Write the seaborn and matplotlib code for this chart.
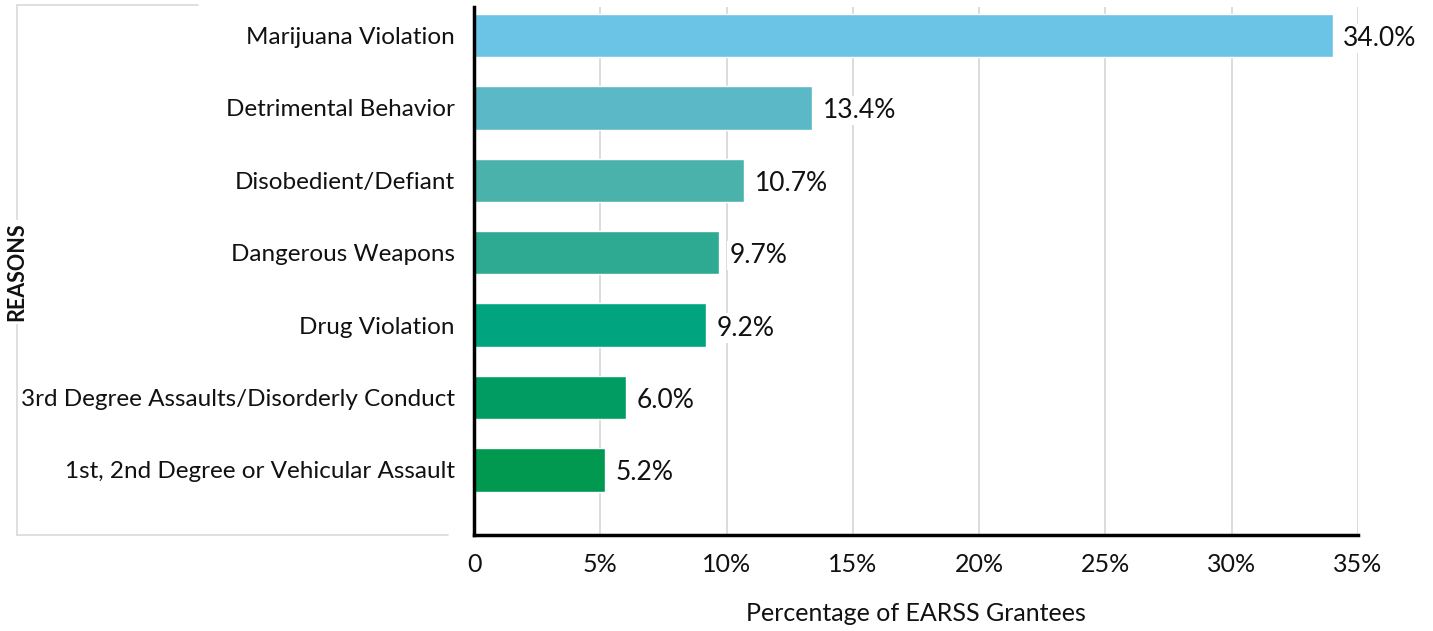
import matplotlib
matplotlib.use("Agg")
import matplotlib.pyplot as plt
from matplotlib.lines import Line2D
from matplotlib.ticker import FuncFormatter
import seaborn as sns
import pandas as pd

reasons = [
    "Marijuana Violation",
    "Detrimental Behavior",
    "Disobedient/Defiant",
    "Dangerous Weapons",
    "Drug Violation",
    "3rd Degree Assaults/Disorderly Conduct",
    "1st, 2nd Degree or Vehicular Assault",
]
percentages = [34.0, 13.4, 10.7, 9.7, 9.2, 6.0, 5.2]
bar_colors = ["#6BC4E6", "#5BB8C6", "#4AB2AA", "#2EAA92", "#00A57F", "#009C62", "#00994F"]
x_ticks = [0, 5, 10, 15, 20, 25, 30, 35]
x_label = "Percentage of EARSS Grantees"
y_label = "REASONS"

sns.set_theme(style="white")
plt.rcParams["font.family"] = ["Lato", "DejaVu Sans"]

df = pd.DataFrame({"reason": reasons, "pct": percentages})

W, H = 1433, 631
fig = plt.figure(figsize=(W / 100, H / 100), dpi=100)
ax = fig.add_axes([474 / W, 1 - 535 / H, (1358 - 474) / W, (535 - 7) / H])

sns.barplot(data=df, y="reason", x="pct", hue="reason", palette=bar_colors,
            order=reasons, hue_order=reasons, width=0.6, legend=False, ax=ax,
            orient="h", saturation=1, zorder=2)

ax.set_xlim(0, 35)
ax.set_ylim(6.898, -0.394)
ax.set_xticks(x_ticks)
ax.xaxis.set_major_formatter(FuncFormatter(lambda v, p: "0" if v == 0 else f"{int(v)}%"))
ax.grid(axis="x", color="#D9D9D9", linewidth=1.3, zorder=0)
ax.set_axisbelow(True)
for s in ["top", "right"]:
    ax.spines[s].set_visible(False)
for s in ["left", "bottom"]:
    ax.spines[s].set_color("black")
    ax.spines[s].set_linewidth(2.5)
    ax.spines[s].set_zorder(3)
ax.tick_params(axis="x", labelsize=18, length=0, pad=13, colors="#111111")
ax.tick_params(axis="y", labelsize=17.5, length=0, pad=14, colors="#111111")
ax.set_ylabel("")
ax.set_xlabel(x_label, fontsize=18, labelpad=19, color="#111111")

for i, v in enumerate(percentages):
    ax.text(v + 0.42, i + 0.04, f"{v:.1f}%", va="center", ha="left", fontsize=19,
            color="#111111", zorder=4,
            bbox=dict(facecolor="white", edgecolor="none", pad=1.5))

# light frame around category area
fx = 17 / W
fig.add_artist(Line2D([fx, fx], [1 - 5 / H, 1 - 535 / H], color="#D9D9D9", lw=1.2))
fig.add_artist(Line2D([fx, 198 / W], [1 - 5 / H, 1 - 5 / H], color="#D9D9D9", lw=1.2))
fig.add_artist(Line2D([fx, 448 / W], [1 - 535 / H, 1 - 535 / H], color="#D9D9D9", lw=1.2))
fig.text(fx, 1 - 272 / H, y_label, rotation=90, ha="center", va="center",
         fontsize=15.5, fontweight="bold", color="#111111",
         bbox=dict(facecolor="white", edgecolor="none", pad=2))

fig.savefig("out.png", dpi=100, facecolor="white")
